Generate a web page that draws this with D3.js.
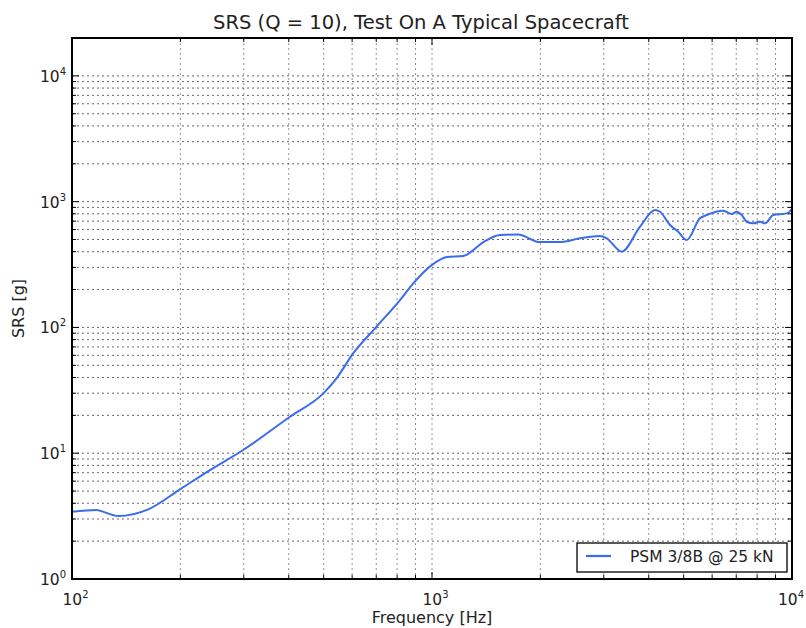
<!DOCTYPE html>
<html><head><meta charset="utf-8">
<script src="https://cdn.jsdelivr.net/npm/d3@7"></script>
<style>
body{margin:0;background:#fff;}
text{font-family:"DejaVu Sans",sans-serif;fill:#222;}
</style></head>
<body><svg id="c" width="806" height="628"></svg>
<script>
const titleText = "SRS (Q = 10), Test On A Typical Spacecraft";
const xLabel = "Frequency [Hz]";
const yLabel = "SRS [g]";
const seriesName = "PSM 3/8B @ 25 kN";
const xDomain = [100, 10000];
const yDomain = [1, 20000];
const xMajorExps = [2, 3, 4];
const yMajorExps = [0, 1, 2, 3, 4];
const freq = [100,117,119.6,134.5,162.9,199.5,241.7,299,403,499,543,604,694.6,815,887,998,1101,1222,1403,1545,1733,1995,2268,2576,2929,3056,3365,3783,4163,4299,4583,4831,5099,5550,5797,6443,6800,7019,7250,7484,7805,8150,8414,8876,9670,9980];
const srs  = [3.43,3.54,3.49,3.17,3.58,5.16,7.35,10.6,19.5,29.9,39.4,62.2,98.4,165,224,313,363,370,486,543,548,477,477,511,533,511,400,632,858,831,652,576,495,737,783,847,797,831,783,692,672,692,672,783,807,869];

const svg = d3.select("#c");
const L=72, R=792, T=38, B=579;
const x = d3.scaleLog().domain(xDomain).range([L,R]);
const y = d3.scaleLog().domain(yDomain).range([B,T]);

const minorX=[], minorY=[];
for(let e=2;e<4;e++) for(let m=2;m<=9;m++) minorX.push(m*Math.pow(10,e));
for(let e=0;e<5;e++) for(let m=2;m<=9;m++){const v=m*Math.pow(10,e); if(v<yDomain[1]) minorY.push(v);}
const majorX = xMajorExps.map(e=>Math.pow(10,e));
const majorY = yMajorExps.map(e=>Math.pow(10,e));

const g = svg.append("g");
const grid = g.append("g").attr("stroke","#555").attr("stroke-width",0.9).attr("stroke-dasharray","2,3");
majorX.concat(minorX).filter(v=>v>xDomain[0]&&v<xDomain[1]).forEach(v=>{
  grid.append("line").attr("x1",x(v)).attr("x2",x(v)).attr("y1",T).attr("y2",B).attr("stroke","#888");
});
majorY.concat(minorY).filter(v=>v>yDomain[0]&&v<yDomain[1]).forEach(v=>{
  grid.append("line").attr("x1",L).attr("x2",R).attr("y1",y(v)).attr("y2",y(v));
});

const tk = g.append("g").attr("stroke","#000").attr("stroke-width",1);
function xt(v,len){tk.append("line").attr("x1",x(v)).attr("x2",x(v)).attr("y1",B).attr("y2",B-len);
  tk.append("line").attr("x1",x(v)).attr("x2",x(v)).attr("y1",T).attr("y2",T+len);}
function yt(v,len){tk.append("line").attr("y1",y(v)).attr("y2",y(v)).attr("x1",L).attr("x2",L+len);
  tk.append("line").attr("y1",y(v)).attr("y2",y(v)).attr("x1",R).attr("x2",R-len);}
majorX.forEach(v=>xt(v,7)); minorX.forEach(v=>xt(v,4));
majorY.forEach(v=>yt(v,7)); minorY.forEach(v=>yt(v,4));

const line = d3.line().x((d,i)=>x(freq[i])).y((d,i)=>y(srs[i])).curve(d3.curveMonotoneX);
g.append("path").datum(srs).attr("d",line).attr("fill","none").attr("stroke","#3a6cf0").attr("stroke-width",2).attr("stroke-linejoin","round");

g.append("rect").attr("x",L).attr("y",T).attr("width",R-L).attr("height",B-T).attr("fill","none").attr("stroke","#000").attr("stroke-width",2);

function pow(sel,e){
  sel.append("tspan").text("10");
  sel.append("tspan").attr("dy",-7).attr("font-size",10).text(e);
}
xMajorExps.forEach(e=>{
  const t=svg.append("text").attr("x",x(Math.pow(10,e))-9.5).attr("y",605).attr("font-size",15.5);
  pow(t,e);
  const w=t.node().getComputedTextLength();
  const sx=+t.attr("x");
  if(sx+w>804) t.attr("x",804-w);
});
yMajorExps.forEach(e=>{
  const t=svg.append("text").attr("x",L-6).attr("y",y(Math.pow(10,e))+6).attr("text-anchor","end").attr("font-size",15.5);
  pow(t,e);
});

svg.append("text").attr("x",(L+R)/2-11).attr("y",29).attr("text-anchor","middle").attr("font-size",19.5).text(titleText);
svg.append("text").attr("x",(L+R)/2).attr("y",623).attr("text-anchor","middle").attr("font-size",16).text(xLabel);
svg.append("text").attr("transform",`translate(24,${(T+B)/2}) rotate(-90)`).attr("text-anchor","middle").attr("font-size",16).text(yLabel);

const lg = svg.append("g");
lg.append("rect").attr("x",577).attr("y",543).attr("width",210).attr("height",29).attr("fill","#fff").attr("stroke","#000").attr("stroke-width",1.3);
lg.append("line").attr("x1",586).attr("x2",611).attr("y1",556).attr("y2",556).attr("stroke","#3a6cf0").attr("stroke-width",2.2);
lg.append("text").attr("x",630).attr("y",562).attr("font-size",15.5).text(seriesName);
</script></body></html>
